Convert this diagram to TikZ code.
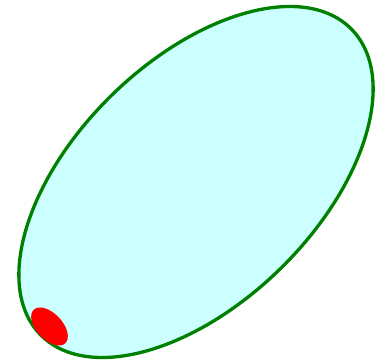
\documentclass[tikz,border=0pt]{standalone}
\usepackage{tikz}
\definecolor{regionfill}{RGB}{204,255,255}
\definecolor{regionedge}{RGB}{0,128,0}
\definecolor{spotred}{RGB}{255,0,0}

\begin{document}
\begin{tikzpicture}[x=1pt, y=1pt]
	\def\ra{218}   % major semi-axis
	\def\rb{121}   % minor semi-axis

\useasboundingbox (0,0) rectangle (387,361);

% outer region
\draw[regionedge, fill=regionfill, line width=3.3pt, rotate around={44.5:(196,179)}]
(196,179) ellipse ({\ra} and {\rb});

% small spot
\fill[spotred, rotate around={-47:(49.5,34.5)}]
(49.5,34.5) ellipse (23 and 13);

\end{tikzpicture}
\end{document}
